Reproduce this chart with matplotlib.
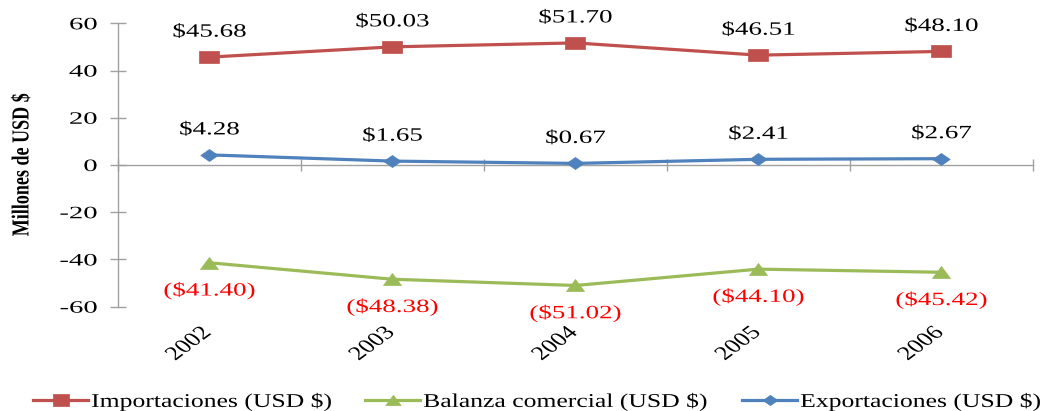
import numpy as np
import matplotlib
matplotlib.use("Agg")
import matplotlib.pyplot as plt
from matplotlib.patheffects import AbstractPathEffect
from matplotlib.path import Path
from matplotlib.transforms import Affine2D

# ---- data -------------------------------------------------------------
years = ["2002", "2003", "2004", "2005", "2006"]
importaciones = [45.68, 50.03, 51.70, 46.51, 48.10]
exportaciones = [4.28, 1.65, 0.67, 2.41, 2.67]
balanza = [-41.40, -48.38, -51.02, -44.10, -45.42]
y_ticks = [-60, -40, -20, 0, 20, 40, 60]
series_names = ["Importaciones (USD $)", "Balanza comercial (USD $)",
                "Exportaciones (USD $)"]
y_title = "Millones de USD $"

# ---- style ------------------------------------------------------------
RED = "#C0504D"
GREEN = "#9BBB59"
BLUE = "#4F81BD"
AXIS_GRAY = "#A0A0A0"

plt.rcParams["font.family"] = ["Liberation Serif", "DejaVu Serif"]
plt.rcParams["text.parse_math"] = False
plt.rcParams["axes.unicode_minus"] = False


class Widen(AbstractPathEffect):
    """Draw a text path stretched horizontally about one of its edges,
    optionally nudged sideways by ``dx`` points."""

    def __init__(self, sx, anchor="center", dx=0.0):
        super().__init__()
        self.sx = sx
        self.anchor = anchor
        self.dx = dx

    def draw_path(self, renderer, gc, tpath, affine, rgbFace=None):
        ext = affine.transform_path(tpath).get_extents()
        if self.anchor == "left":
            x0 = ext.x0
        elif self.anchor == "right":
            x0 = ext.x1
        else:
            x0 = 0.5 * (ext.x0 + ext.x1)
        shift = renderer.points_to_pixels(self.dx)
        stretch = (Affine2D().translate(-x0, 0).scale(self.sx, 1)
                   .translate(x0 + shift, 0))
        renderer.draw_path(gc, tpath, affine + stretch, rgbFace)


def wide_marker(points):
    pts = np.array(points + [points[0]], dtype=float)
    return Path(pts, closed=True)


square_marker = wide_marker([(-0.75, -0.5), (0.75, -0.5), (0.75, 0.5), (-0.75, 0.5)])
diamond_marker = wide_marker([(-0.72, 0.0), (0.0, 0.5), (0.72, 0.0), (0.0, -0.5)])
triangle_marker = wide_marker([(-0.75, -0.5), (0.75, -0.5), (0.0, 0.5)])

fig = plt.figure(figsize=(10.45, 4.11), dpi=100)
ax = fig.add_axes([0.1129, 0.2538, 0.9885 - 0.1129, 0.9433 - 0.2538])

x = np.arange(len(years))

h_imp, = ax.plot(x, importaciones, color=RED, lw=2.3, marker=square_marker,
                 ms=14.0, mec=RED, mew=0.5, label=series_names[0], zorder=3)
h_bal, = ax.plot(x, balanza, color=GREEN, lw=2.3, marker=triangle_marker,
                 ms=13.0, mec=GREEN, mew=0.5, label=series_names[1], zorder=3)
h_exp, = ax.plot(x, exportaciones, color=BLUE, lw=2.3, marker=diamond_marker,
                 ms=12.5, mec=BLUE, mew=0.5, label=series_names[2], zorder=3)

# value labels
label_fx = [Widen(1.44, "center")]
for xi, v in zip(x, importaciones):
    ax.annotate(f"${v:.2f}", (xi, v), xytext=(0, 18), textcoords="offset points",
                ha="center", va="center", fontsize=13.5, color="black",
                path_effects=label_fx)
for xi, v in zip(x, exportaciones):
    ax.annotate(f"${v:.2f}", (xi, v), xytext=(0, 18), textcoords="offset points",
                ha="center", va="center", fontsize=13.5, color="black",
                path_effects=label_fx)
for xi, v in zip(x, balanza):
    ax.annotate(f"(${abs(v):.2f})", (xi, v), xytext=(0, -20), textcoords="offset points",
                ha="center", va="center", fontsize=13.5, color="#FF0000",
                path_effects=label_fx)

# axes limits and spines
ax.set_xlim(-0.5, len(years) - 0.5)
ax.set_ylim(y_ticks[0], y_ticks[-1])
for side in ("top", "right", "bottom"):
    ax.spines[side].set_visible(False)
ax.spines["left"].set_color(AXIS_GRAY)
ax.spines["left"].set_linewidth(1.0)

# y axis
ax.set_yticks(y_ticks)
ax.tick_params(axis="y", direction="inout", length=11, width=1.0,
               color=AXIS_GRAY, pad=9.5, labelsize=12.5, labelcolor="black")
for lab in ax.get_yticklabels():
    lab.set_path_effects([Widen(1.65, "right")])

# x axis: category labels at the bottom
ax.set_xticks(x, years, rotation=45, ha="right", va="top")
ax.tick_params(axis="x", length=0, pad=12.5, labelsize=14)
for lab in ax.get_xticklabels():
    lab.set_path_effects([Widen(1.35, "right", dx=4.0)])

# zero line with category boundary ticks
zero_axis = ax.secondary_xaxis(0, transform=ax.transData)
zero_axis.set_xticks(np.arange(len(years) + 1) - 0.5)
zero_axis.tick_params(axis="x", direction="inout", length=9, width=1.0,
                      color=AXIS_GRAY, labelbottom=False, labeltop=False)
for side in zero_axis.spines:
    zero_axis.spines[side].set_color(AXIS_GRAY)
    zero_axis.spines[side].set_linewidth(1.0)

# y title
ax.set_ylabel(y_title, fontsize=13, fontweight="bold", va="center", ha="center")
ax.yaxis.set_label_coords(-0.105, 0.5)
ax.yaxis.label.set_path_effects([Widen(1.35, "center")])

# legend entries laid out along the bottom
legend_x = [33 / 1045, 365 / 1045, 742 / 1045]
for handle, lx in zip([h_imp, h_bal, h_exp], legend_x):
    leg = fig.legend(handles=[handle], loc="center left",
                     bbox_to_anchor=(lx, 0.022), bbox_transform=fig.transFigure,
                     frameon=False, fontsize=14, borderpad=0, borderaxespad=0,
                     handlelength=2.85, handletextpad=0.15, markerscale=0.85)
    for t in leg.get_texts():
        t.set_path_effects([Widen(1.32, "left")])

fig.savefig("out.png", dpi=100)
